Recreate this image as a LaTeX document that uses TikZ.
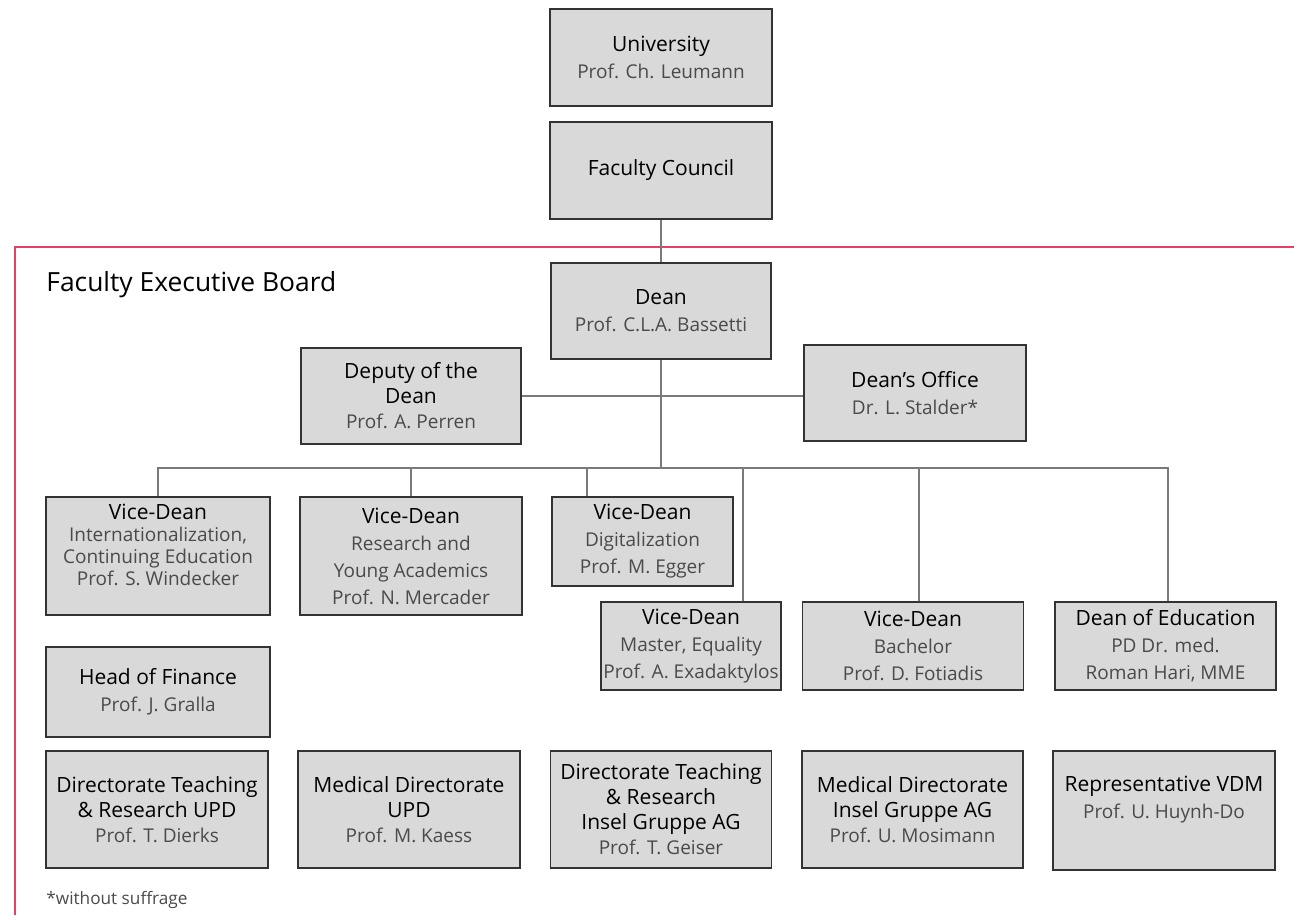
\documentclass[tikz,border=0pt]{standalone}
\usepackage{fontspec}
\setmainfont{Open Sans}
\definecolor{boxgray}{HTML}{D9D9D9}
\definecolor{linegray}{HTML}{7A7A7A}
\definecolor{framered}{HTML}{E4416A}
\definecolor{namegray}{HTML}{4A4A4A}
\newcommand\who{\fontsize{9.5}{\baselineskip}\selectfont\color{namegray}}

\begin{document}
\begin{tikzpicture}[x=0.5pt, y=-0.5pt,
    unit/.style={draw=black!80, fill=boxgray, line width=0.6pt, align=center,
        inner sep=1pt, font=\fontsize{10.5}{13.5}\selectfont},
    wh/.style 2 args={minimum width=#1*0.5pt, minimum height=#2*0.5pt},
    link/.style={draw=linegray, line width=1pt},
    frame/.style={draw=framered, line width=1pt}]
    \useasboundingbox (0,0) rectangle (1294,915);
    % red frame of the executive board
    \draw[frame] (1294,247) -- (15,247) -- (15,915);
    \node[anchor=west, inner sep=0pt, font=\fontsize{13.2}{15}\selectfont] (title) at (46,285) {Faculty Executive Board};
    \node[anchor=west, font=\fontsize{8.6}{10}\selectfont, text=namegray, inner sep=0pt] (note) at (46,900) {*without suffrage};

    \path (661,57.5) node[unit, wh={222}{97}] (uni) {University\\ {\who Prof. Ch. Leumann}}
        (661,170.5) node[unit, wh={222}{97}] (council) {Faculty Council}
        (661,311) node[unit, wh={220}{96}] (dean) {Dean\\ {\who Prof. C.L.A. Bassetti}}
        (411,396) node[unit, wh={220}{96}, font=\fontsize{10.5}{12.5}\selectfont] (deputy) {Deputy of the\\ Dean\\ {\who Prof. A. Perren}}
        (915,393) node[unit, wh={222}{96}] (office) {Dean’s Office\\ {\who Dr. L. Stalder*}};

    % vice-deans
    \path (158,556) node[unit, wh={224}{118}, font=\fontsize{10.5}{11}\selectfont] (vdint) {Vice-Dean\\ {\who Internationalization,}\\ {\who Continuing Education}\\ {\who Prof. S. Windecker}\\ \mbox{}}
        (411,556) node[unit, wh={222}{118}] (vdres) {Vice-Dean\\ {\who Research and}\\ {\who Young Academics}\\ {\who Prof. N. Mercader}}
        (642.5,541.5) node[unit, wh={181}{89}] (vddig) {Vice-Dean\\ {\who Digitalization}\\ {\who Prof. M. Egger}}
        (691,646) node[unit, wh={180}{88}] (vdmas) {Vice-Dean\\ {\who Master, Equality}\\ {\who Prof. A. Exadaktylos}}
        (913,646) node[unit, wh={221}{88}] (vdbac) {Vice-Dean\\ {\who Bachelor}\\ {\who Prof. D. Fotiadis}}
        (1165.5,646) node[unit, wh={221}{88}] (educ) {Dean of Education\\ {\who PD Dr. med.}\\ {\who Roman Hari, MME}}
        (158,692) node[unit, wh={224}{90}] (finance) {Head of Finance\\ {\who Prof. J. Gralla}};

    % directorates
    \path (157,809.5) node[unit, wh={222}{117}, font=\fontsize{10.5}{12.5}\selectfont] (dtupd) {Directorate Teaching\\ \& Research UPD\\ {\who Prof. T. Dierks}}
        (409,809.5) node[unit, wh={222}{117}, font=\fontsize{10.5}{12.5}\selectfont] (mdupd) {Medical Directorate\\ UPD\\ {\who Prof. M. Kaess}}
        (661,809.5) node[unit, wh={221}{117}, font=\fontsize{10.5}{12.5}\selectfont] (dtins) {Directorate Teaching\\ \& Research\\ Insel Gruppe AG\\ {\who Prof. T. Geiser}}
        (912.5,809.5) node[unit, wh={221}{117}, font=\fontsize{10.5}{12.5}\selectfont] (mdins) {Medical Directorate\\ Insel Gruppe AG\\ {\who Prof. U. Mosimann}}
        (1164,810.5) node[unit, wh={222}{119}] (vdm) {Representative VDM\\ {\who Prof. U. Huynh-Do}\\ \mbox{}};

    \coordinate (bus) at (661,468);
    \draw[link] (council.south) -- (dean.north);
    \draw[link] (deputy.east) -- (deputy.east -| office.west);
    \draw[link] (dean.south) -- (bus);
    \draw[link] (vdint.north) |- (bus);
    \draw[link] (vdres.north) |- (bus);
    \draw[link] (587,0 |- vddig.north) |- (bus);
    \draw[link] (743,0 |- vdmas.north) |- (bus);
    \draw[link] (919,0 |- vdbac.north) |- (bus);
    \draw[link] (1168,0 |- educ.north) |- (bus);
\end{tikzpicture}
\end{document}
